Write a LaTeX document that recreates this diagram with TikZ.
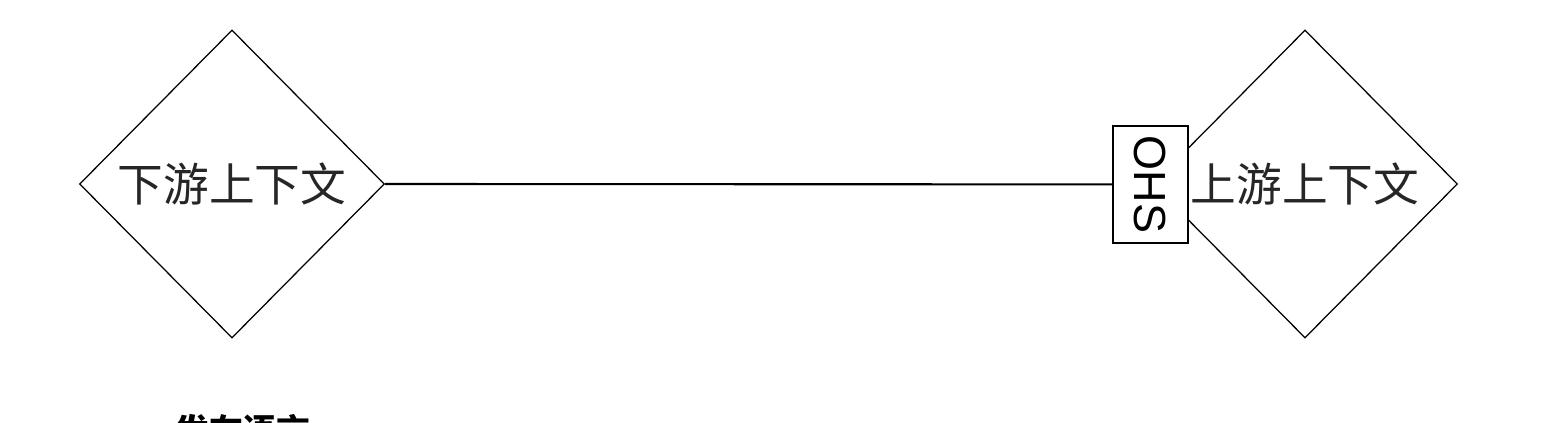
\documentclass[tikz,border=0pt]{standalone}
\usepackage{fontspec}
\setmainfont{Liberation Sans}
\newfontfamily\cjk{Noto Sans CJK SC}
\usepackage{tikz}
\usetikzlibrary{shapes.geometric, positioning}

\begin{document}
\begin{tikzpicture}[
    context/.style={draw, shape=diamond, aspect=1, inner sep=0pt, minimum width=7.625cm, minimum height=7.7cm, line width=0.9pt, font=\cjk\fontsize{32.5}{36}\selectfont, text=black!85},
    ohsbox/.style={draw, fill=white, minimum width=1.875cm, minimum height=2.925cm, inner sep=0pt, line width=1.4pt},
    link/.style={line width=1.5pt},
]
    \clip (0,0) rectangle (38.7,10.55);

    % Contexts
    \node[context] (down) at (5.8,5.95) {下游上下文};
    \node[context] (up) at (32.625,5.95) {上游上下文};

    % Open host service on the upstream side
    \node[ohsbox] (ohs) at (28.76,5.94) {};
    \node[rotate=-90, font=\fontsize{32}{36}\selectfont] (ohslabel) at (ohs.center) {OHS};

    % Relation
    \draw[link] (down.east) -- (ohs.west);

    % Heading below (cut off)
    \node[anchor=north west, inner sep=0pt, font=\cjk\bfseries\fontsize{24}{28}\selectfont] (heading) at (4.375,0.2) {发布语言};
\end{tikzpicture}
\end{document}
